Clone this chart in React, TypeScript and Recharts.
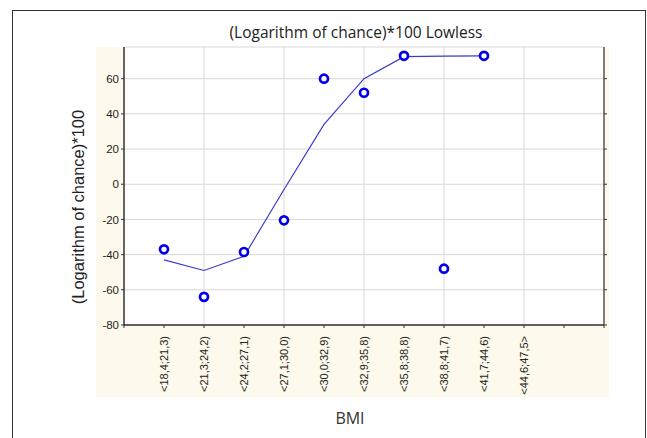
import React from 'react';
import {
  ComposedChart, Line, Scatter, XAxis, YAxis, CartesianGrid, ReferenceLine,
} from 'recharts';

const bmiClasses = [
  '<18,4;21,3)', '<21,3;24,2)', '<24,2;27,1)', '<27,1;30,0)', '<30,0;32,9)',
  '<32,9;35,8)', '<35,8;38,8)', '<38,8;41,7)', '<41,7;44,6)', '<44,6;47,5>',
];
// observed (logarithm of chance)*100 per class (last class has no point)
const observed = [-37, -64, -38.5, -20.5, 60, 52, 73, -48, 73, null];
// lowess fit
const lowess = [-43, -49, -41, -3, 34, 60, 72.5, 72.8, 73, null];
const yTicks = [-80, -60, -40, -20, 0, 20, 40, 60];
const xTicks = [0, 1, 2, 3, 4, 5, 6, 7, 8, 9, 10, 11, 12];
const gridX = [2, 4, 6, 8, 10];

const pointData = bmiClasses
  .map((c, i) => ({ x: i + 1, y: observed[i] }))
  .filter(d => d.y !== null);
const fitData = bmiClasses
  .map((c, i) => ({ x: i + 1, y: lowess[i] }))
  .filter(d => d.y !== null);

const XTick = (props: any) => {
  const { x, y, payload } = props;
  const label = bmiClasses[payload.value - 1] ?? '';
  return (
    <text
      x={x}
      y={y + 6}
      transform={`rotate(-90, ${x}, ${y + 6})`}
      textAnchor="end"
      dy="0.35em"
      fontSize={11}
      fontFamily="'Liberation Sans', Arial, sans-serif"
      fill="#222"
    >
      {label}
    </text>
  );
};

const Ring = (props: any) => (
  <circle cx={props.cx} cy={props.cy} r={4} fill="#fff" stroke="#0000ee" strokeWidth={2.7} />
);

export default function App() {
  return (
    <div style={{ position: 'absolute', left: 0, top: 0, width: 647, height: 438, background: '#fff', overflow: 'hidden' }}>
      <div style={{ position: 'absolute', left: 12, top: 10, width: 634, height: 440, border: '1px solid #333', boxSizing: 'border-box' }} />
      <div style={{ position: 'absolute', left: 96, top: 47, width: 513, height: 350, background: '#fdf9ec' }} />
      <div style={{
        position: 'absolute', left: 0, width: 712, top: 21, textAlign: 'center',
        fontFamily: "'Open Sans', sans-serif", fontSize: 15.5, color: '#222',
      }}>
        (Logarithm of chance)*100 Lowless
      </div>
      <div style={{
        position: 'absolute', left: 78, top: 207, transform: 'translate(-50%, -50%) rotate(-90deg)',
        whiteSpace: 'nowrap', fontFamily: "'Liberation Sans', Arial, sans-serif", fontSize: 16.5, color: '#222',
      }}>
        (Logarithm of chance)*100
      </div>
      <div style={{
        position: 'absolute', left: 320, width: 60, top: 407, textAlign: 'center',
        fontFamily: "'Open Sans', sans-serif", fontSize: 16, color: '#333',
      }}>
        BMI
      </div>
      <div style={{ position: 'absolute', left: 0, top: 0 }}>
        <ComposedChart width={647} height={438} margin={{ top: 47, right: 37, bottom: 43, left: 84 }}>
          <CartesianGrid vertical={false} stroke="#d8d8d8" fill="#fff" />
          {gridX.map(v => (
            <ReferenceLine key={v} x={v} stroke="#d8d8d8" />
          ))}
          <XAxis
            dataKey="x"
            type="number"
            domain={[0, 12]}
            ticks={xTicks}
            interval={0}
            tick={<XTick />}
            tickSize={3}
            height={70}
            axisLine={{ stroke: '#333', strokeWidth: 1.5 }}
            tickLine={{ stroke: '#333' }}
          />
          <YAxis
            type="number"
            domain={[-80, 78]}
            ticks={yTicks}
            allowDataOverflow
            width={40}
            tickSize={3}
            tickMargin={2}
            tick={{ fontSize: 11.5, fill: '#222', fontFamily: "'Liberation Sans', Arial, sans-serif" }}
            axisLine={{ stroke: '#333', strokeWidth: 1.5 }}
            tickLine={{ stroke: '#333' }}
          />
          <YAxis
            yAxisId="r"
            orientation="right"
            type="number"
            domain={[-80, 78]}
            ticks={yTicks}
            allowDataOverflow
            width={6}
            tickSize={3}
            tickFormatter={() => ''}
            axisLine={{ stroke: '#555', strokeWidth: 1.5 }}
            tickLine={{ stroke: '#333' }}
          />
          <Line
            data={fitData}
            dataKey="y"
            type="linear"
            stroke="#3a3acc"
            strokeWidth={1.2}
            dot={false}
            activeDot={false}
            isAnimationActive={false}
          />
          <Scatter data={pointData} dataKey="y" shape={<Ring />} isAnimationActive={false} />
        </ComposedChart>
      </div>
    </div>
  );
}
